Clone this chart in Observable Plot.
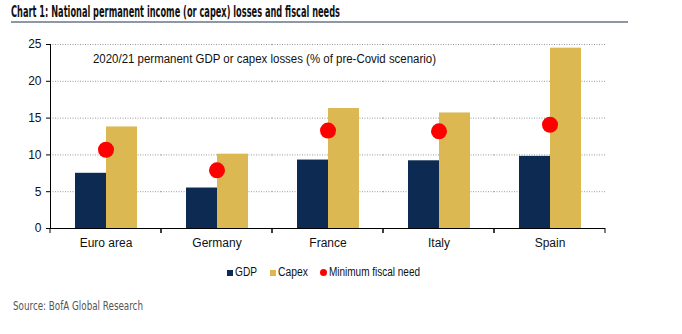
<!DOCTYPE html>
<html>
<head>
<meta charset="utf-8">
<script src="https://cdn.jsdelivr.net/npm/d3@7"></script>
<script src="https://cdn.jsdelivr.net/npm/@observablehq/plot@0.6"></script>
<style>
  html, body { margin: 0; padding: 0; background: #fff; }
  #wrap { position: relative; width: 682px; height: 334px; overflow: hidden; font-family: "Liberation Sans", Arial, sans-serif; }
  .abs { position: absolute; white-space: nowrap; line-height: 1; }
  .fit { display: inline-block; transform-origin: 0 0; }
  #title { left: 11px; top: 5px; font-family: "Liberation Sans Narrow", "DejaVu Sans Condensed", sans-serif; font-weight: bold; font-size: 15.5px; color: #111; }
  #rule { left: 11px; top: 21px; width: 617px; height: 2px; background: #8d97a8; }
  #plot { left: 0; top: 28px; }
  #note { left: 93px; top: 53px; font-size: 12px; color: #111; }
  #source { left: 13px; top: 300px; font-family: "Liberation Sans Narrow", "DejaVu Sans Condensed", sans-serif; font-size: 12px; color: #555; }
  .sw { position: absolute; width: 6px; height: 6px; }
  .lt { font-size: 12.5px; color: #111; top: 266px; }
</style>
</head>
<body>
<div id="wrap">
  <div class="abs" id="title"><span class="fit" data-w="329">Chart 1: National permanent income (or capex) losses and fiscal needs</span></div>
  <div class="abs" id="rule"></div>
  <div class="abs" id="plot"></div>
  <div class="abs" id="note"><span class="fit" data-w="343">2020/21 permanent GDP or capex losses (% of pre-Covid scenario)</span></div>
  <div id="legend"></div>
  <div class="abs" id="source"><span class="fit" data-w="130">Source: BofA Global Research</span></div>
</div>
<script>
// ---- data ----
const countries = ["Euro area", "Germany", "France", "Italy", "Spain"];
const seriesNames = ["GDP", "Capex"];
const gdpLoss = [7.5, 5.5, 9.3, 9.2, 9.8];
const capexLoss = [13.8, 10.1, 16.3, 15.7, 24.5];
const fiscalNeed = [10.7, 7.9, 13.3, 13.2, 14.1];
const fiscalLabel = "Minimum fiscal need";
const yTicks = [0, 5, 10, 15, 20, 25];

const seriesColors = ["#0c2a52", "#dcb852"];
const dotColor = "#ff0000";

const bars = [];
countries.forEach((c, i) => {
  bars.push({country: c, series: "GDP", value: gdpLoss[i]});
  bars.push({country: c, series: "Capex", value: capexLoss[i]});
});
const needs = countries.map((c, i) => ({country: c, value: fiscalNeed[i]}));

// tick marks at the category boundaries (drawn at each facet's edges)
function boundaryTicks(index, scales, values, dims) {
  const ns = "http://www.w3.org/2000/svg";
  const g = document.createElementNS(ns, "g");
  const y0 = scales.y(0);
  [dims.marginLeft, dims.width - dims.marginRight].forEach(x => {
    const l = document.createElementNS(ns, "line");
    l.setAttribute("x1", x); l.setAttribute("x2", x);
    l.setAttribute("y1", y0); l.setAttribute("y2", y0 + 5);
    l.setAttribute("stroke", "#000");
    g.appendChild(l);
  });
  return g;
}

const chart = Plot.plot({
  width: 682,
  height: 226,
  marginLeft: 48,
  marginRight: 76,
  marginTop: 16,
  marginBottom: 26,
  style: {fontFamily: "Liberation Sans, Arial, sans-serif", fontSize: "12px", color: "#111", background: "transparent"},
  fx: {domain: countries, padding: 0, label: null},
  x: {domain: seriesNames, paddingInner: 0, paddingOuter: 0.744, axis: null},
  y: {domain: [0, 25], label: null},
  color: {domain: seriesNames, range: seriesColors},
  marks: [
    Plot.gridY(yTicks.filter(d => d > 0), {stroke: "#9a9a9a", strokeOpacity: 1, strokeDasharray: "1,1.5"}),
    Plot.barY(bars, {fx: "country", x: "series", y: "value", fill: "series"}),
    Plot.dot(needs, {fx: "country", y: "value", r: 8, fill: dotColor, stroke: null}),
    Plot.ruleY([0], {stroke: "#000", strokeWidth: 1.2}),
    Plot.frame({anchor: "left", facetAnchor: "left", stroke: "#000"}),
    boundaryTicks,
    Plot.axisY(yTicks, {tickSize: 4, tickPadding: 5, fontSize: 12, stroke: "#000", label: null}),
    Plot.axisFx({anchor: "bottom", tickSize: 0, tickPadding: 10, fontSize: 12, label: null})
  ]
});
document.getElementById("plot").appendChild(chart);

// ---- legend ----
const legend = document.getElementById("legend");
const legendItems = [
  {label: seriesNames[0], color: seriesColors[0], shape: "square", sx: 227, tx: 235, w: 22},
  {label: seriesNames[1], color: seriesColors[1], shape: "square", sx: 270, tx: 278, w: 30},
  {label: fiscalLabel, color: dotColor, shape: "circle", sx: 320, tx: 329, w: 91}
];
legendItems.forEach(it => {
  const sw = document.createElement("div");
  sw.className = "sw";
  sw.style.left = it.sx + "px";
  sw.style.top = "270px";
  sw.style.background = it.color;
  if (it.shape === "circle") { sw.style.borderRadius = "50%"; sw.style.width = "7px"; sw.style.height = "7px"; sw.style.top = "269px"; }
  legend.appendChild(sw);
  const t = document.createElement("div");
  t.className = "abs lt";
  t.style.left = it.tx + "px";
  t.innerHTML = `<span class="fit" data-w="${it.w}">${it.label}</span>`;
  legend.appendChild(t);
});

// fit text widths
document.querySelectorAll(".fit").forEach(el => {
  const target = +el.dataset.w;
  const w = el.getBoundingClientRect().width;
  if (w > 0) el.style.transform = `scaleX(${target / w})`;
});
</script>
</body>
</html>
